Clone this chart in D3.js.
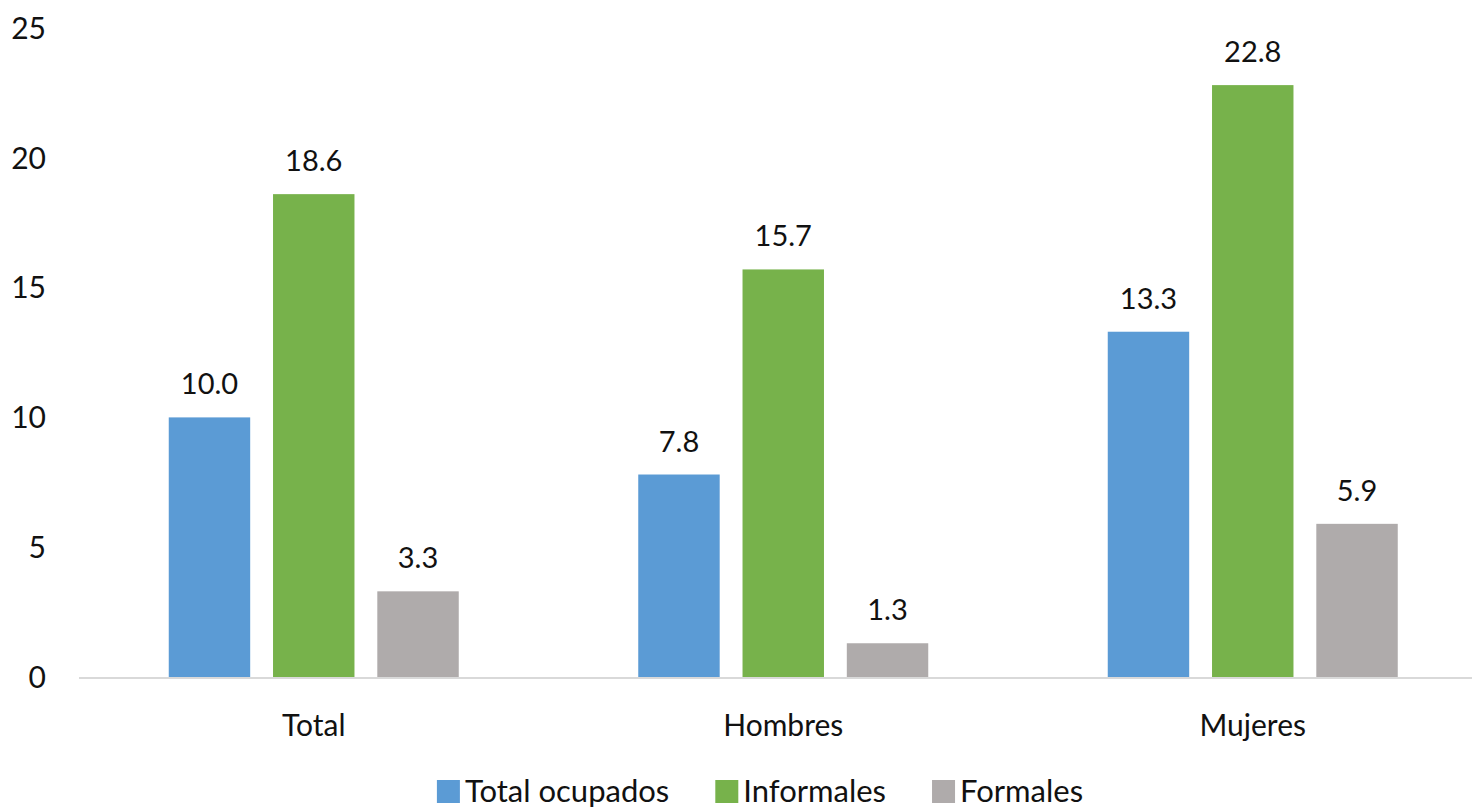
<!DOCTYPE html>
<html>
<head>
<meta charset="utf-8">
<script src="https://cdn.jsdelivr.net/npm/d3@7"></script>
<style>
body { margin: 0; background: #fff; }
text { font-family: Lato, "Open Sans", sans-serif; fill: #111; }
</style>
</head>
<body>
<script>
//data
var categories = ["Total", "Hombres", "Mujeres"];
var series = ["Total ocupados", "Informales", "Formales"];
var totalOcupados = [10.0, 7.8, 13.3];
var informales = [18.6, 15.7, 22.8];
var formales = [3.3, 1.3, 5.9];
var yTicks = [0, 5, 10, 15, 20, 25];
var colors = ["#5B9BD5", "#77B24B", "#AFABAB"];

var values = [totalOcupados, informales, formales];

var w = 1472, h = 810;

var svg = d3.select("body")
    .append("svg")
    .attr("width", w)
    .attr("height", h);

//scales
var y = d3.scaleLinear()
    .domain([0, 25])
    .range([677, 28]);

var x = d3.scaleBand()
    .domain(categories)
    .range([79, 1487.5])
    .padding(0);

var groupW = 290;
var xInner = d3.scaleBand()
    .domain(series)
    .range([0, groupW])
    .paddingInner(0.219);

//y tick labels (no axis line)
svg.selectAll(".ytick")
    .data(yTicks)
    .enter()
    .append("text")
    .attr("class", "ytick")
    .attr("x", 46)
    .attr("y", function(d){ return y(d); })
    .attr("dy", "0.36em")
    .attr("text-anchor", "end")
    .style("font-size", "30px")
    .text(function(d){ return d; });

//bars
var groups = svg.selectAll(".group")
    .data(categories)
    .enter()
    .append("g")
    .attr("class", "group")
    .attr("transform", function(d){
        return "translate(" + (x(d) + x.bandwidth() / 2 - groupW / 2) + ",0)";
    });

groups.selectAll("rect")
    .data(function(d, i){
        return series.map(function(s, j){ return {s: s, v: values[j][i], j: j}; });
    })
    .enter()
    .append("rect")
    .attr("x", function(d){ return xInner(d.s); })
    .attr("width", xInner.bandwidth())
    .attr("y", function(d){ return y(d.v); })
    .attr("height", function(d){ return y(0) - y(d.v); })
    .style("fill", function(d){ return colors[d.j]; });

//value labels
groups.selectAll(".val")
    .data(function(d, i){
        return series.map(function(s, j){ return {s: s, v: values[j][i]}; });
    })
    .enter()
    .append("text")
    .attr("class", "val")
    .attr("x", function(d){ return xInner(d.s) + xInner.bandwidth() / 2; })
    .attr("y", function(d){ return y(d.v) - 23; })
    .attr("text-anchor", "middle")
    .style("font-size", "29px")
    .text(function(d){ return d.v.toFixed(1); });

//x axis line
svg.append("line")
    .attr("x1", 79)
    .attr("x2", w)
    .attr("y1", y(0) + 1)
    .attr("y2", y(0) + 1)
    .style("stroke", "#D9D9D9")
    .style("stroke-width", 2);

//category labels
svg.selectAll(".cat")
    .data(categories)
    .enter()
    .append("text")
    .attr("class", "cat")
    .attr("x", function(d){ return x(d) + x.bandwidth() / 2; })
    .attr("y", 736)
    .attr("text-anchor", "middle")
    .style("font-size", "30px")
    .text(function(d){ return d; });

//legend
var legend = svg.append("g").attr("class", "legend");
var lx = 0;
series.forEach(function(s, i){
    var item = legend.append("g").attr("transform", "translate(" + lx + ",0)");
    item.append("rect")
        .attr("x", 0)
        .attr("y", 780)
        .attr("width", 23)
        .attr("height", 23)
        .style("fill", colors[i]);
    var t = item.append("text")
        .attr("x", 28)
        .attr("y", 802)
        .style("font-size", "31px")
        .text(s);
    lx += 28 + t.node().getComputedTextLength() + 46;
});
var legW = lx - 46;
legend.attr("transform", "translate(" + (760 - legW / 2) + ",0)");
</script>
</body>
</html>
